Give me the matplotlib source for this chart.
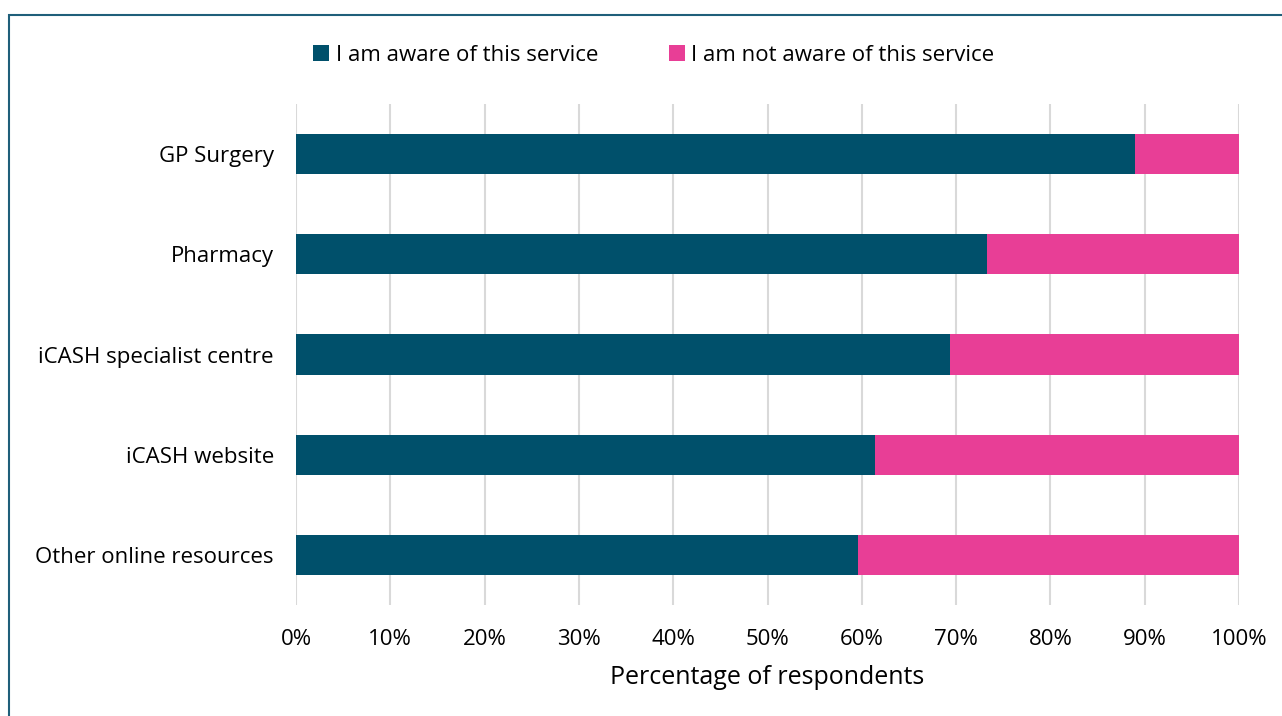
import matplotlib.pyplot as plt
from matplotlib.patches import Rectangle

plt.rcParams['font.family'] = ['Open Sans', 'DejaVu Sans']

categories = ["GP Surgery", "Pharmacy", "iCASH specialist centre", "iCASH website", "Other online resources"]
aware = [89.0, 73.3, 69.3, 61.4, 59.6]
not_aware = [100 - a for a in aware]
ticks = list(range(0, 101, 10))

teal = "#00506B"
pink = "#E83E96"

fig = plt.figure(figsize=(12.82, 7.16), dpi=100)
ax = fig.add_axes([0.2309, 0.155, 0.7356, 0.6997])

y = list(range(len(categories)))
ax.barh(y, aware, height=0.4, color=teal, label="I am aware of this service", zorder=3)
ax.barh(y, not_aware, left=aware, height=0.4, color=pink, label="I am not aware of this service", zorder=3)

ax.set_yticks(y)
ax.set_yticklabels(categories, fontsize=16)
ax.set_ylim(len(categories) - 0.5, -0.5)
ax.set_xlim(0, 100)
ax.set_xticks(ticks)
ax.set_xticklabels([f"{t}%" for t in ticks], fontsize=16)
ax.set_xlabel("Percentage of respondents", fontsize=18, labelpad=11)
ax.xaxis.grid(True, color="#d9d9d9", linewidth=1.5, zorder=0)
ax.tick_params(axis='x', length=0, pad=17)
ax.tick_params(axis='y', length=0, pad=16)
for s in ax.spines.values():
    s.set_visible(False)

# legend centred above the plot, square markers
fig.legend(loc="center", bbox_to_anchor=(0.51, 0.923), ncol=2, frameon=False,
           fontsize=16, handlelength=0.7, handleheight=0.7, handletextpad=0.3,
           columnspacing=3.2)

fig.patches.append(Rectangle((9 / 1282, -0.1), 1.2, 1 - 15 / 716 + 0.1,
                             transform=fig.transFigure, fill=False,
                             edgecolor="#1F5F7A", linewidth=1.5))

fig.savefig("out.png", dpi=100)
